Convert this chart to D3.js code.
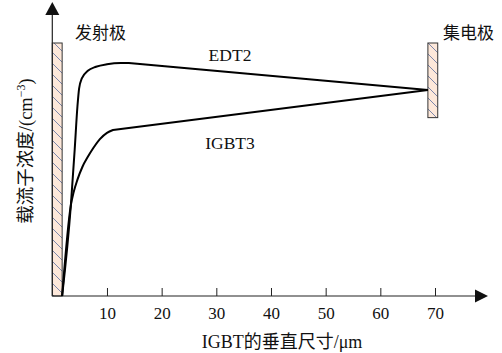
<!DOCTYPE html>
<html><head><meta charset="utf-8">
<script src="https://cdn.jsdelivr.net/npm/d3@7"></script>
<style>body{margin:0;background:#fff}svg{display:block}</style>
</head><body>
<script>
// ---- data ----
const xTicks = [10, 20, 30, 40, 50, 60, 70];
const edt2X = [1.8, 3.4, 4.1, 4.6, 4.9, 5.4, 6.5, 8.0, 10.0, 12.5, 14.0];
const edt2Y = [0, 36, 58, 75, 82, 86, 89, 90.6, 91.6, 92.1, 92.1];
const edt2End = [68.7, 81.4];
const igbt3X = [1.8, 3.4, 3.9, 4.6, 5.5, 6.5, 7.5, 8.7, 10.0, 11.1];
const igbt3Y = [0, 36, 41, 46, 51, 55, 58.5, 62, 64.5, 65.6];
const igbt3End = [68.7, 81.4];
const emitterBar = [0, 1.8, 0, 100];     // x0, x1, y0, y1
const collectorBar = [68.7, 70.5, 70.5, 100];
const labels = {emitter: "发射极", collector: "集电极", edt2: "EDT2", igbt3: "IGBT3",
  xTitle: "IGBT的垂直尺寸/μm"};

const W = 502, H = 353;
const svg = d3.select("body").append("svg").attr("width", W).attr("height", H);
const FONT = "'Liberation Serif','Noto Sans CJK SC',serif";
const x = d3.scaleLinear().domain([0, 70]).range([52.3, 435.0]);
const y = d3.scaleLinear().domain([0, 100]).range([296, 43]);

const defs = svg.append("defs");
const pat = defs.append("pattern").attr("id", "hatch").attr("patternUnits", "userSpaceOnUse")
  .attr("width", 11).attr("height", 11);
pat.append("rect").attr("width", 11).attr("height", 11).attr("fill", "#fde8da");
pat.append("path").attr("d", "M0,0L11,11M-5.5,5.5L5.5,16.5M5.5,-5.5L16.5,5.5")
  .attr("stroke", "#5b6fa0").attr("stroke-width", 0.8);

function bar(b) {
  svg.append("rect").attr("x", x(b[0])).attr("y", y(b[3]))
    .attr("width", x(b[1]) - x(b[0])).attr("height", y(b[2]) - y(b[3]))
    .attr("fill", "url(#hatch)").attr("stroke", "#333").attr("stroke-width", 1);
}
bar(emitterBar);
bar(collectorBar);

// axes
const ax = svg.append("g").attr("transform", `translate(0,${y(0)})`)
  .attr("font-family", FONT)
  .call(d3.axisBottom(x).tickValues(xTicks).tickSizeInner(-8).tickSizeOuter(0).tickPadding(11));
ax.attr("font-family", FONT).attr("font-size", 17);
ax.select(".domain").remove();
ax.selectAll(".tick line").attr("stroke", "#222");
ax.selectAll("text").attr("font-family", FONT).attr("font-size", 17).attr("fill", "#111");

svg.append("line").attr("x1", x(0)).attr("x2", 478).attr("y1", y(0)).attr("y2", y(0))
  .attr("stroke", "#222").attr("stroke-width", 1.2);
svg.append("path").attr("d", `M488,${y(0)}L475,${y(0) - 6.5}L475,${y(0) + 6.5}Z`).attr("fill", "#111");
svg.append("line").attr("x1", x(0)).attr("x2", x(0)).attr("y1", y(0)).attr("y2", 12)
  .attr("stroke", "#222").attr("stroke-width", 1.2);
svg.append("path").attr("d", `M${x(0)},2L${x(0) - 7},15L${x(0) + 7},15Z`).attr("fill", "#111");

// curves
const curve = d3.line().x(d => x(d[0])).y(d => y(d[1])).curve(d3.curveMonotoneX);
function drawSeries(xs, ys, end) {
  const pts = xs.map((v, i) => [v, ys[i]]);
  const d = curve(pts) + `L${x(end[0])},${y(end[1])}`;
  svg.append("path").attr("d", d).attr("fill", "none").attr("stroke", "#000")
    .attr("stroke-width", 2).attr("stroke-linejoin", "round");
}
drawSeries(edt2X, edt2Y, edt2End);
drawSeries(igbt3X, igbt3Y, igbt3End);

// texts
function txt(s, tx, ty, anchor, size) {
  return svg.append("text").attr("x", tx).attr("y", ty).attr("text-anchor", anchor || "start")
    .attr("font-family", FONT).attr("font-size", size || 17).attr("fill", "#111").text(s);
}
txt(labels.emitter, 75, 38.5);
txt(labels.collector, 443, 38.5);
txt(labels.edt2, 230, 61, "middle", 17.5);
txt(labels.igbt3, 230, 149, "middle", 17.5);
txt(labels.xTitle, 282, 348, "middle", 18);

const yl = svg.append("text").attr("transform", "translate(32,151) rotate(-90)")
  .attr("text-anchor", "middle").attr("font-family", FONT).attr("font-size", 18.5).attr("fill", "#111");
yl.append("tspan").text("载流子浓度/(cm");
yl.append("tspan").attr("font-size", 12).attr("dy", -7).text("−3");
yl.append("tspan").attr("dy", 7).text(")");
</script>
</body></html>
